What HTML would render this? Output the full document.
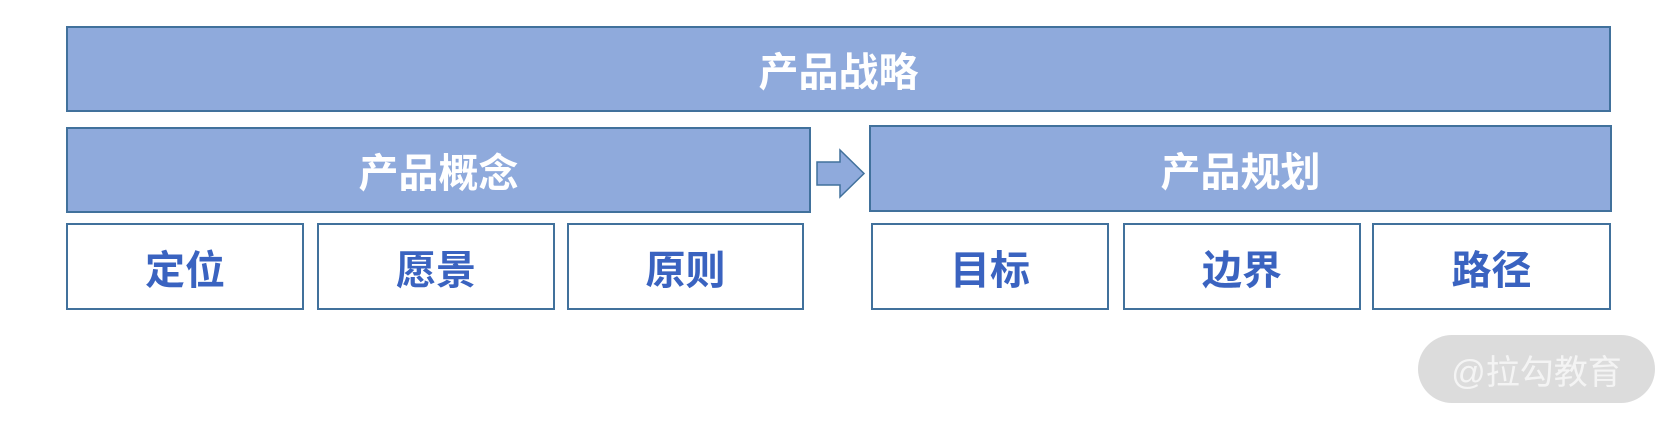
<!DOCTYPE html>
<html><head><meta charset="utf-8"><style>
html,body{margin:0;padding:0;background:#fff;width:1678px;height:425px;overflow:hidden;position:relative}
.b{position:absolute;box-sizing:border-box;display:flex;align-items:center;justify-content:center;font-family:"Liberation Sans","Noto Sans CJK SC",sans-serif;font-weight:bold}
.f{background:#8faadc;border:2px solid #41719c;color:#fff;font-size:40px}
.w{background:#fff;border:2px solid #41719c;color:#3a63c0;font-size:40px}
.wm{position:absolute;left:1418px;top:335px;width:237px;height:68px;border-radius:34px;background:#dcdcdc;color:#f4f4f4;font-family:"Liberation Sans","Noto Sans CJK SC",sans-serif;font-size:34px;display:flex;align-items:center;justify-content:center}
</style></head><body>
<div class="b f" style="left:66px;top:26px;width:1545px;height:86px">产品战略</div>
<div class="b f" style="left:66px;top:127px;width:745px;height:86px">产品概念</div>
<div class="b f" style="left:869px;top:125px;width:743px;height:87px">产品规划</div>
<svg style="position:absolute;left:0;top:0" width="1678" height="425"><polygon points="817,162 840,162 840,150 864,173.5 840,197 840,185 817,185" fill="#8faadc" stroke="#41719c" stroke-width="1.5"/></svg>
<div class="b w" style="left:66px;top:223px;width:238px;height:87px">定位</div>
<div class="b w" style="left:317px;top:223px;width:238px;height:87px">愿景</div>
<div class="b w" style="left:567px;top:223px;width:237px;height:87px">原则</div>
<div class="b w" style="left:871px;top:223px;width:238px;height:87px">目标</div>
<div class="b w" style="left:1123px;top:223px;width:238px;height:87px">边界</div>
<div class="b w" style="left:1372px;top:223px;width:239px;height:87px">路径</div>
<div class="wm">@拉勾教育</div>
</body></html>
